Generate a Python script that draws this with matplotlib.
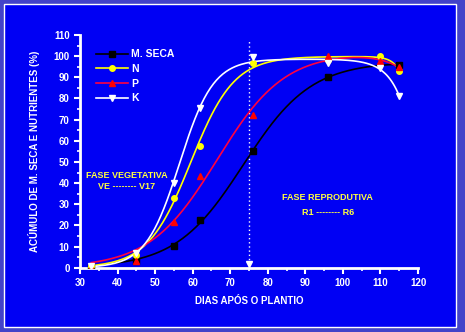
import matplotlib
matplotlib.use("Agg")
import matplotlib.pyplot as plt
import numpy as np
from matplotlib.patches import Rectangle

plt.rcParams['font.family'] = ['Liberation Sans', 'DejaVu Sans']
plt.rcParams['font.weight'] = 'bold'

# data
dias = [33, 45, 55, 62, 76, 96, 110, 115]
mseca = [0.5, 3, 10.3, 22.7, 55, 90, np.nan, 96]
nitro = [1, 6, 32.8, 57.7, 97, 98, 100, 93]
fosf = [0, 3, 21.7, 43.4, 72, 100, 97.7, 94.7]
pot = [0.8, 6.8, 40, 75.4, 99.8, 96.6, 94.3, 81]

series = [
    ("M. SECA", mseca, "black", "s", "black"),
    ("N", nitro, "#ffff00", "o", "#ffff00"),
    ("P", fosf, "#ff0040", "^", "#ff0000"),
    ("K", pot, "white", "v", "white"),
]


def fit_curve(x, y, xs):
    # logistic rise with a late exponential drop, grid search + least squares
    best = None
    for x0 in np.arange(45, 85, 0.5):
        for s in np.arange(3, 15, 0.25):
            g = 1 / (1 + np.exp(-(x - x0) / s))
            for d in [2, 3, 4, 5, 6, 8, 10, 12]:
                h = np.exp((x - 115) / d)
                M = np.column_stack([g, h])
                c, *_ = np.linalg.lstsq(M, y, rcond=None)
                if c[1] > 0:
                    c = np.array([np.dot(g, y) / np.dot(g, g), 0.0])
                err = np.sum((M @ c - y) ** 2)
                if best is None or err < best[0]:
                    best = (err, x0, s, d, c)
    _, x0, s, d, c = best
    return c[0] / (1 + np.exp(-(xs - x0) / s)) + c[1] * np.exp((xs - 115) / d)


BG = "#0000f4"
fig = plt.figure(figsize=(4.65, 3.32), dpi=100)
fig.patch.set_facecolor("#4343c9")
frame = Rectangle((4 / 465, 5 / 332), 452 / 465, 323 / 332,
                  transform=fig.transFigure, facecolor=BG,
                  edgecolor="white", linewidth=1.0, zorder=-10)
fig.add_artist(frame)

ax = fig.add_axes([80 / 465, 1 - 267.7 / 332, 338 / 465, 232.7 / 332])
ax.set_facecolor("none")
ax.set_zorder(1)

xs = np.linspace(33, 115, 200)
for name, vals, col, mk, mcol in series:
    x = np.array(dias, dtype=float)
    y = np.array(vals, dtype=float)
    ok = ~np.isnan(y)
    ax.plot(xs, fit_curve(x[ok], y[ok], xs), color=col, lw=1.2, zorder=3)
    ax.plot(x[ok], y[ok], linestyle="none", marker=mk, color=mcol,
            markersize=4, zorder=4)
    ax.plot([], [], color=col, lw=1.2, marker=mk, markerfacecolor=mcol,
            markeredgecolor=mcol, markersize=4, label=name)

# phase divider
ax.plot([75, 75], [0, 108], color="white", lw=1, linestyle=(0, (1, 2)), zorder=2)
ax.plot([75], [1.8], marker="v", color="white", markersize=4, zorder=5)

ax.text(42.5, 43.8, "FASE VEGETATIVA", color="#ffff40", fontsize=6.5,
        ha="center", va="center")
ax.text(42.5, 38.2, "VE -------- V17", color="#ffff40", fontsize=6.5,
        ha="center", va="center")
ax.text(96, 33, "FASE REPRODUTIVA", color="#ffff40", fontsize=6.5,
        ha="center", va="center")
ax.text(96, 26.3, "R1 -------- R6", color="#ffff40", fontsize=6.5,
        ha="center", va="center")

ax.set_xlim(30, 120)
ax.set_ylim(0, 110)
ax.set_xticks(np.arange(30, 121, 10))
ax.set_yticks(np.arange(0, 111, 10))
ax.set_xticks(np.arange(35, 120, 10), minor=True)
ax.set_yticks(np.arange(5, 110, 10), minor=True)
for s in ["top", "right"]:
    ax.spines[s].set_visible(False)
for s in ["left", "bottom"]:
    ax.spines[s].set_color("white")
    ax.spines[s].set_linewidth(2)
ax.tick_params(which="major", colors="white", labelsize=7, length=4, width=1.5)
ax.tick_params(which="minor", colors="white", length=2, width=1.2)
ax.set_xlabel("DIAS APÓS O PLANTIO", color="white", fontsize=7, fontweight="bold",
              labelpad=6)
ax.set_ylabel("ACÚMULO DE M. SECA E NUTRIENTES (%)", color="white", fontsize=7,
              fontweight="bold", labelpad=10)

leg = ax.legend(loc="upper left", bbox_to_anchor=(0.03, 0.965), frameon=False,
                fontsize=7.5, labelcolor="white", handlelength=3,
                labelspacing=0.45, borderaxespad=0.2, handletextpad=0.3)

fig.savefig("out.png", dpi=100, facecolor=fig.get_facecolor())
